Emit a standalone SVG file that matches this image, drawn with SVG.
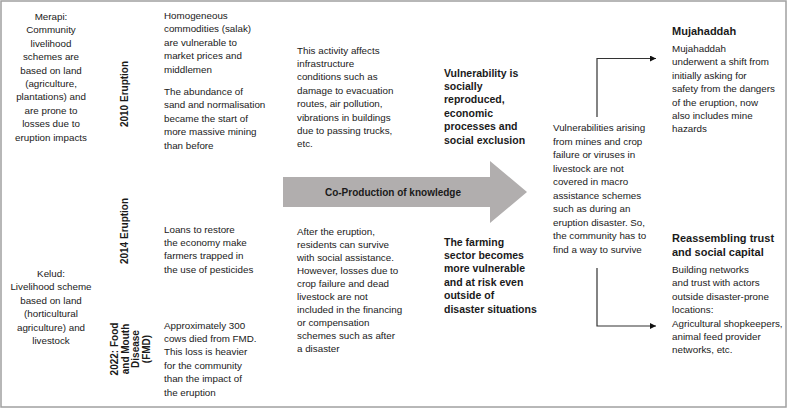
<svg xmlns="http://www.w3.org/2000/svg" width="788" height="408" viewBox="0 0 788 408">
<style>
text{font-family:"Liberation Sans",Arial,sans-serif;fill:#1a1a1a}
.b{font-size:9.8px}
.c{text-anchor:middle}
.h{font-size:10.5px;font-weight:bold}
.t{font-size:11px;font-weight:bold}
.r{font-size:10px;font-weight:bold;text-anchor:middle}
.conn{fill:none;stroke:#333;stroke-width:1.2}
</style>
<defs>
<marker id="ah" viewBox="0 0 10 10" refX="10" refY="5" markerWidth="6" markerHeight="6" markerUnits="userSpaceOnUse" orient="auto">
<path d="M0,0L10,5L0,10z" fill="#111"/>
</marker>
</defs>
<rect x="1" y="1" width="785" height="406" fill="#fff" stroke="#a0a0a0" stroke-width="1.5"/>

<g id="merapi">
<text class="b c" x="51" y="20">Merapi:</text>
<text class="b c" x="51" y="33.4">Community</text>
<text class="b c" x="51" y="46.8">livelihood</text>
<text class="b c" x="51" y="60.2">schemes are</text>
<text class="b c" x="51" y="73.6">based on land</text>
<text class="b c" x="51" y="87">(agriculture,</text>
<text class="b c" x="51" y="100.4">plantations) and</text>
<text class="b c" x="51" y="113.8">are prone to</text>
<text class="b c" x="51" y="127.2">losses due to</text>
<text class="b c" x="51" y="140.6">eruption impacts</text>
</g>

<g id="kelud">
<text class="b c" x="51" y="277">Kelud:</text>
<text class="b c" x="51" y="290.4">Livelihood scheme</text>
<text class="b c" x="51" y="303.8">based on land</text>
<text class="b c" x="51" y="317.2">(horticultural</text>
<text class="b c" x="51" y="330.6">agriculture) and</text>
<text class="b c" x="51" y="344">livestock</text>
</g>

<g id="label2010">
<text class="r" transform="translate(128,94) rotate(-90)">2010 Eruption</text>
</g>
<g id="label2014">
<text class="r" transform="translate(128,231) rotate(-90)">2014 Eruption</text>
</g>
<g id="label2022">
<text class="r" transform="translate(118,349) rotate(-90)">2022: Food</text>
<text class="r" transform="translate(128.7,349) rotate(-90)">and Mouth</text>
<text class="r" transform="translate(139.4,349) rotate(-90)">Disease</text>
<text class="r" transform="translate(150.1,349) rotate(-90)">(FMD)</text>
</g>

<g id="homogeneous">
<text class="b" x="164" y="19">Homogeneous</text>
<text class="b" x="164" y="32.4">commodities (salak)</text>
<text class="b" x="164" y="45.8">are vulnerable to</text>
<text class="b" x="164" y="59.2">market prices and</text>
<text class="b" x="164" y="72.6">middlemen</text>
</g>
<g id="abundance">
<text class="b" x="164" y="95">The abundance of</text>
<text class="b" x="164" y="108.4">sand and normalisation</text>
<text class="b" x="164" y="121.8">became the start of</text>
<text class="b" x="164" y="135.2">more massive mining</text>
<text class="b" x="164" y="148.6">than before</text>
</g>
<g id="loans">
<text class="b" x="164" y="232.5">Loans to restore</text>
<text class="b" x="164" y="245.9">the economy make</text>
<text class="b" x="164" y="259.3">farmers trapped in</text>
<text class="b" x="164" y="272.7">the use of pesticides</text>
</g>
<g id="cows">
<text class="b" x="164" y="328.5">Approximately 300</text>
<text class="b" x="164" y="341.9">cows died from FMD.</text>
<text class="b" x="164" y="355.3">This loss is heavier</text>
<text class="b" x="164" y="368.7">for the community</text>
<text class="b" x="164" y="382.1">than the impact of</text>
<text class="b" x="164" y="395.5">the eruption</text>
</g>

<g id="activity">
<text class="b" x="297" y="53.5">This activity affects</text>
<text class="b" x="297" y="66.9">infrastructure</text>
<text class="b" x="297" y="80.3">conditions such as</text>
<text class="b" x="297" y="93.7">damage to evacuation</text>
<text class="b" x="297" y="107.1">routes, air pollution,</text>
<text class="b" x="297" y="120.5">vibrations in buildings</text>
<text class="b" x="297" y="133.9">due to passing trucks,</text>
<text class="b" x="297" y="147.3">etc.</text>
</g>
<g id="after">
<text class="b" x="297" y="235">After the eruption,</text>
<text class="b" x="297" y="248">residents can survive</text>
<text class="b" x="297" y="261">with social assistance.</text>
<text class="b" x="297" y="274">However, losses due to</text>
<text class="b" x="297" y="287">crop failure and dead</text>
<text class="b" x="297" y="300">livestock are not</text>
<text class="b" x="297" y="313">included in the financing</text>
<text class="b" x="297" y="326">or compensation</text>
<text class="b" x="297" y="339">schemes such as after</text>
<text class="b" x="297" y="352">a disaster</text>
</g>

<g id="coproduction">
<polygon points="283,177 490,177 490,161 527,192 490,223 490,207 283,207" fill="#b1aeae"/>
<text class="c" x="393" y="195.5" style="font-size:10px;font-weight:bold">Co-Production of knowledge</text>
</g>

<g id="vulnerability">
<text class="h" x="444" y="76.5">Vulnerability is</text>
<text class="h" x="444" y="89.9">socially</text>
<text class="h" x="444" y="103.3">reproduced,</text>
<text class="h" x="444" y="116.7">economic</text>
<text class="h" x="444" y="130.1">processes and</text>
<text class="h" x="444" y="143.5">social exclusion</text>
</g>
<g id="farming">
<text class="h" x="444" y="245.5">The farming</text>
<text class="h" x="444" y="258.9">sector becomes</text>
<text class="h" x="444" y="272.3">more vulnerable</text>
<text class="h" x="444" y="285.7">and at risk even</text>
<text class="h" x="444" y="299.1">outside of</text>
<text class="h" x="444" y="312.5">disaster situations</text>
</g>

<g id="vulnerabilities">
<text class="b" x="553" y="131">Vulnerabilities arising</text>
<text class="b" x="553" y="144.5">from mines and crop</text>
<text class="b" x="553" y="158">failure or viruses in</text>
<text class="b" x="553" y="171.5">livestock are not</text>
<text class="b" x="553" y="185">covered in macro</text>
<text class="b" x="553" y="198.5">assistance schemes</text>
<text class="b" x="553" y="212">such as during an</text>
<text class="b" x="553" y="225.5">eruption disaster. So,</text>
<text class="b" x="553" y="239">the community has to</text>
<text class="b" x="553" y="252.5">find a way to survive</text>
</g>

<g id="mujahaddah">
<text class="t" x="672" y="35">Mujahaddah</text>
<text class="b" x="672" y="52">Mujahaddah</text>
<text class="b" x="672" y="65.4">underwent a shift from</text>
<text class="b" x="672" y="78.8">initially asking for</text>
<text class="b" x="672" y="92.2">safety from the dangers</text>
<text class="b" x="672" y="105.6">of the eruption, now</text>
<text class="b" x="672" y="119">also includes mine</text>
<text class="b" x="672" y="132.4">hazards</text>
</g>

<g id="reassembling">
<text class="t" x="672" y="242">Reassembling trust</text>
<text class="t" x="672" y="256">and social capital</text>
<text class="b" x="672" y="273">Building networks</text>
<text class="b" x="672" y="286.4">and trust with actors</text>
<text class="b" x="672" y="299.8">outside disaster-prone</text>
<text class="b" x="672" y="313.2">locations:</text>
<text class="b" x="672" y="326.6">Agricultural shopkeepers,</text>
<text class="b" x="672" y="340">animal feed provider</text>
<text class="b" x="672" y="353.4">networks, etc.</text>
</g>

<g id="connectors">
<path class="conn" d="M597,117V58.5H656" marker-end="url(#ah)"/>
<path class="conn" d="M597,268V326H656" marker-end="url(#ah)"/>
</g>
</svg>
